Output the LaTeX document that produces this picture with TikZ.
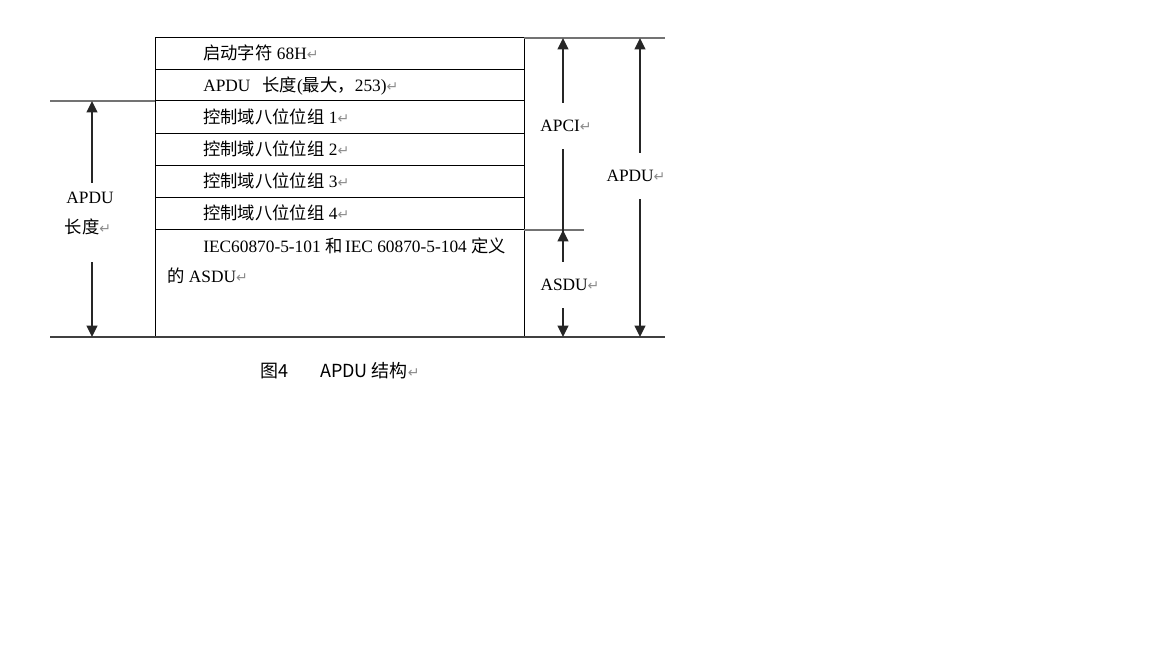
\documentclass[tikz,border=0pt]{standalone}
\usepackage{fontspec}
\setmainfont{Liberation Serif}
\newfontfamily\cjk{Noto Sans CJK SC}
\newfontfamily\dejavu{DejaVu Sans}
\usetikzlibrary{arrows.meta,positioning,calc}
% paragraph mark as printed in the source
\newcommand{\retmk}{{\dejavu\fontsize{10.5}{10}\selectfont\color{black!45}↵}}
\tikzset{
  rule/.style={line width=0.75pt, black},
  refline/.style={line width=1pt, black!55},
  celltext/.style={font=\fontsize{13}{15}\selectfont, anchor=base west, inner sep=0pt},
  dimlabel/.style={font=\fontsize{13}{15}\selectfont, text height=9pt, text depth=0pt, inner xsep=0pt, inner ysep=12.75pt},
  dimarrow/.style={-{Triangle[length=8.5pt,width=8pt]}, line width=1.3pt, black!85},
  dimline/.style={line width=1.3pt, black!85}
}
\begin{document}
\begin{tikzpicture}[x=0.75pt,y=-0.75pt]
\useasboundingbox (0,0) rectangle (1152,648);
% Table frame and row rules
\draw[rule] (155,38) rectangle (524,337);
\foreach \y in {70,101,134,166,198,230}
  \draw[rule] (155,\y) -- (524,\y);
% Row texts
\node[celltext] (start) at (203,60) {{\cjk 启动字符} 68H\retmk};
\node[celltext] (len) at (203,92) {APDU\hspace{9pt}{\cjk 长度}({\cjk 最大，}253)\retmk};
\foreach \y/\n in {124/1,156/2,188/3,220/4}
  \node[celltext] (ctrl\n) at (203,\y) {{\cjk 控制域八位位组} \n\retmk};
\node[celltext] (asdua) at (203,253) {IEC60870-5-101 {\cjk 和}\hspace{2pt}IEC 60870-5-104 {\cjk 定义}};
\node[celltext] (asdub) at (167,283) {{\cjk 的} ASDU\retmk};
% Reference lines
\draw[refline] (50,101) -- (155,101);
\draw[refline] (524,38) -- (665,38);
\draw[refline] (524,230) -- (584,230);
\draw[refline, black!75] (50,337) -- (665,337);
% Arrow end points
\coordinate (ltop) at (92,101);
\coordinate (lbot) at (92,337);
\coordinate (apcitop) at (563,38);
\coordinate (split) at (563,230);
\coordinate (asdubot) at (563,337);
\coordinate (apdutop) at (640,38);
\coordinate (apdubot) at (640,337);
% Left: APDU length
\node[dimlabel, inner ysep=6.75pt] (lenA) at (90,198) {APDU};
\node[dimlabel, inner ysep=21pt] (lenB) at (88,228) {{\cjk 长度}\retmk};
\draw[dimarrow] (lenA.north -| ltop) -- (ltop);
\draw[dimarrow] (lenB.south -| lbot) -- (lbot);
% Right: APCI / ASDU
\node[dimlabel] (apci) at (566,126) {APCI\retmk};
\node[dimlabel] (asdu) at (570,285) {ASDU\retmk};
\draw[dimarrow] (apci.north -| split) -- (apcitop);
\draw[dimline] (apci.south -| split) -- (asdu.north -| split);
\draw[dimarrow] (asdu.north -| split) -- (split);
\draw[dimarrow] (asdu.south -| split) -- (asdubot);
% Right: whole APDU
\node[dimlabel] (apdu) at (636,176) {APDU\retmk};
\draw[dimarrow] (apdu.north -| apdutop) -- (apdutop);
\draw[dimarrow] (apdu.south -| apdubot) -- (apdubot);
% Caption
\node[font=\cjk\fontsize{13.5}{16}\selectfont, anchor=base west, inner sep=0pt] (cap) at (260,377) {图4\hspace{24pt}APDU 结构\retmk};
\end{tikzpicture}
\end{document}
